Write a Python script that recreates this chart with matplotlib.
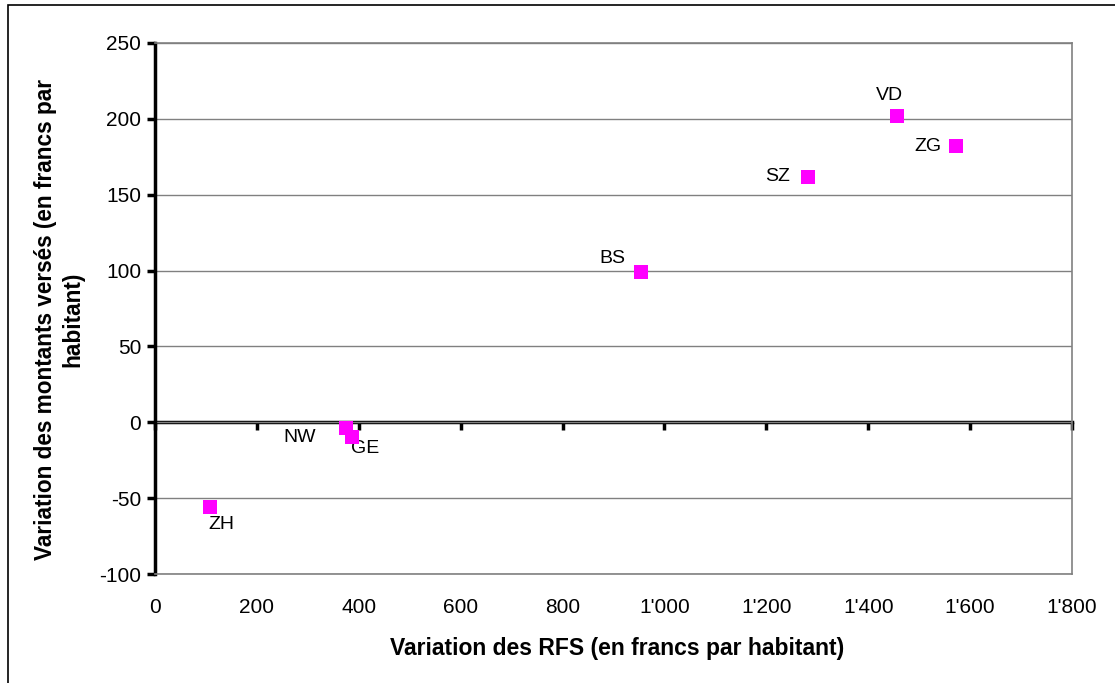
import numpy as np
import matplotlib.pyplot as plt
from matplotlib.ticker import FuncFormatter, MultipleLocator
from matplotlib.patches import Rectangle

plt.rcParams['font.family'] = ['Liberation Sans', 'DejaVu Sans']
plt.rcParams['axes.unicode_minus'] = False

cantons = ['ZH', 'NW', 'GE', 'BS', 'SZ', 'VD', 'ZG']
rfs = [108, 375, 387, 954, 1282, 1457, 1572]
montants = [-56, -4, -10, 99, 162, 202, 182]

# label placement (offset in pixels, horizontal alignment)
offsets = {
    'ZH': ((-2, -17), 'left'),
    'NW': ((-30, -9), 'right'),
    'GE': ((-1, -11), 'left'),
    'BS': ((-16, 14), 'right'),
    'SZ': ((-18, 0), 'right'),
    'VD': ((-8, 20), 'center'),
    'ZG': ((-14, 0), 'right'),
}

fig = plt.figure(figsize=(11.15, 6.83), dpi=100)
ax = fig.add_axes([155/1115, 1-574/683, (1072-155)/1115, (574-43)/683])

# outer frame (left and top edges only visible)
fig.patches.append(Rectangle((8/1115, -0.1), 1.2, 1.1-5/683, transform=fig.transFigure,
                             fill=False, edgecolor='black', linewidth=1.2))

ax.scatter(rfs, montants, marker='s', s=95, color='#FF00FF', zorder=5, linewidths=0)
for name, x, y in zip(cantons, rfs, montants):
    (dx, dy), ha = offsets[name]
    ax.annotate(name, (x, y), xytext=(dx, dy), textcoords='offset pixels',
                ha=ha, va='center', fontsize=14)

ax.set_xlim(0, 1800)
ax.set_ylim(-100, 250)
ax.yaxis.set_major_locator(MultipleLocator(50))
ax.xaxis.set_major_locator(MultipleLocator(200))

fmt = FuncFormatter(lambda v, p: f"{int(v):,}".replace(',', "'"))
ax.xaxis.set_major_formatter(fmt)

ax.grid(axis='y', color='#808080', linewidth=1)
ax.set_axisbelow(True)

for s in ['top', 'right', 'bottom']:
    ax.spines[s].set_color('#808080')
    ax.spines[s].set_linewidth(1.2)
ax.spines['left'].set_color('black')
ax.spines['left'].set_linewidth(2.5)

ax.tick_params(axis='x', length=0, labelsize=15, pad=17)
ax.tick_params(axis='y', length=6, width=2.5, labelsize=15, pad=4)

# horizontal axis drawn through zero, ticks pointing down
sec = ax.secondary_xaxis(100/350)
sec.xaxis.set_major_locator(MultipleLocator(200))
sec.spines['bottom'].set_linewidth(2.5)
sec.tick_params(axis='x', length=6, width=2.5, labelbottom=False, direction='out')

ax.set_xlabel('Variation des RFS (en francs par habitant)', fontsize=16.5, fontweight='bold')
ax.set_ylabel('Variation des montants versés (en francs par\nhabitant)', fontsize=16.3,
              fontweight='bold', linespacing=1.25)
ax.xaxis.set_label_coords(0.504, -0.118)
ax.yaxis.set_label_coords(-0.077, 0.48)

fig.savefig('out.png', dpi=100)
